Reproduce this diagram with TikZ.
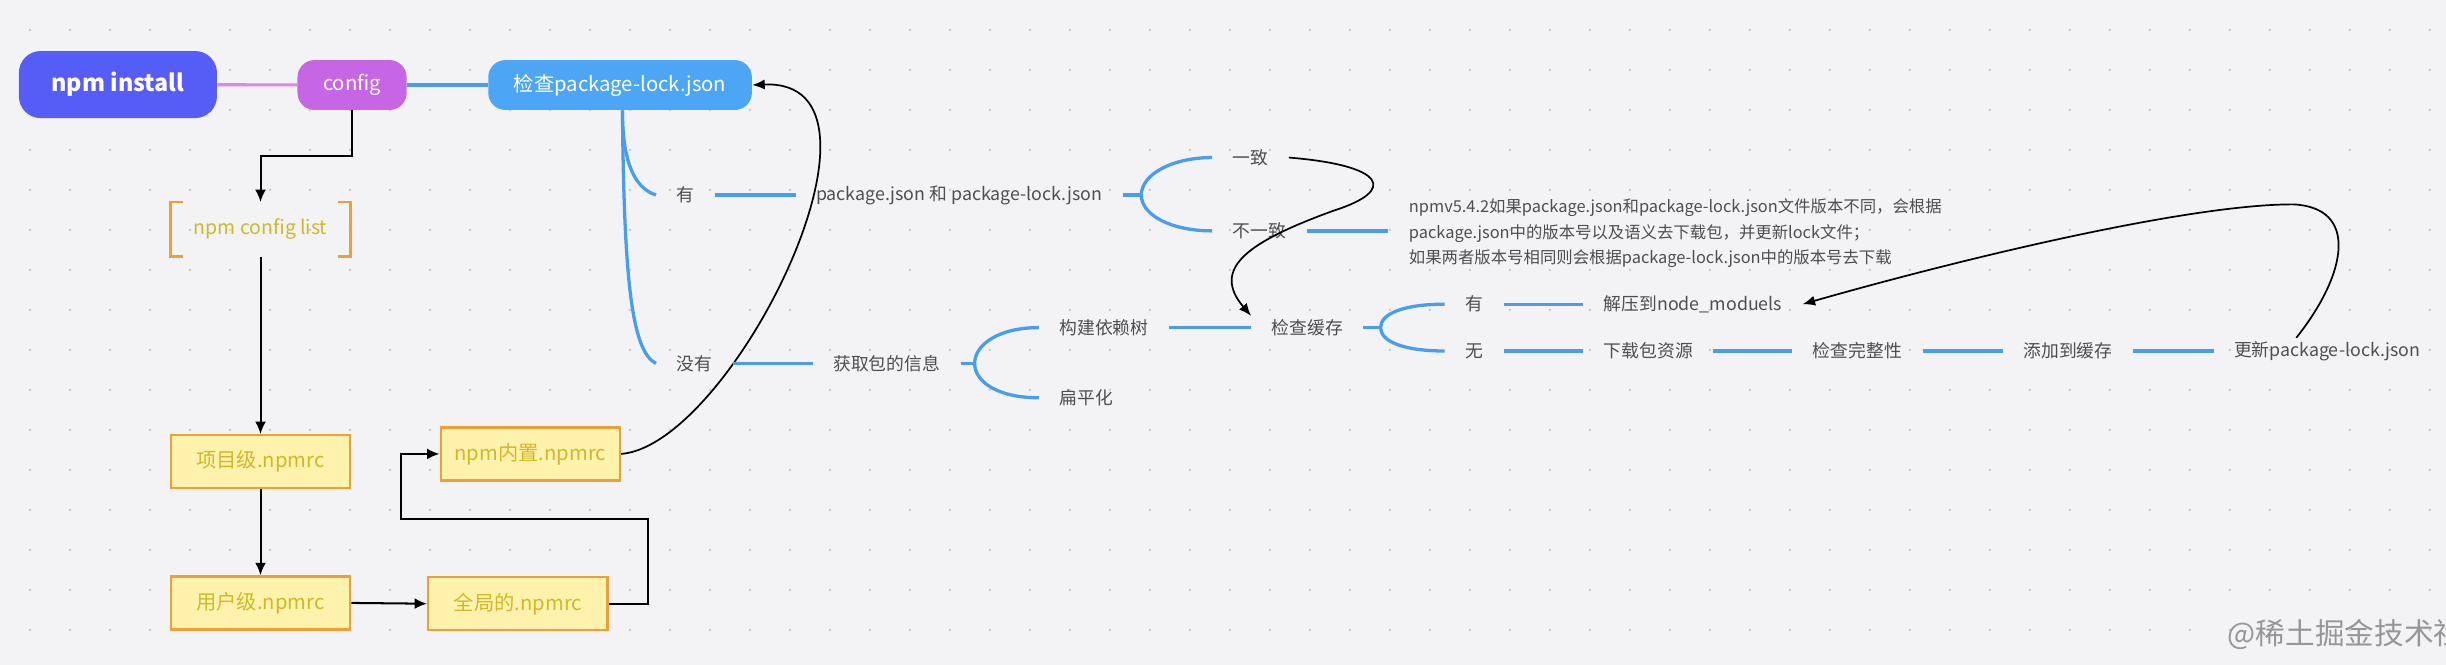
\documentclass[tikz,border=0pt]{standalone}
\usepackage{fontspec}
\setmainfont{Noto Sans CJK SC}
\usetikzlibrary{arrows.meta}

\definecolor{bggray}{RGB}{243,243,245}
\definecolor{dotgray}{RGB}{200,200,206}
\definecolor{installblue}{RGB}{86,92,246}
\definecolor{configpurple}{RGB}{198,102,228}
\definecolor{pinkline}{RGB}{216,136,232}
\definecolor{checkblue}{RGB}{76,166,245}
\definecolor{branchblue}{RGB}{74,157,236}
\definecolor{boxyellow}{RGB}{255,242,172}
\definecolor{boxorange}{RGB}{236,160,56}
\definecolor{boxtext}{RGB}{208,184,40}
\definecolor{labelgray}{RGB}{78,78,80}
\definecolor{markgray}{RGB}{150,150,152}

\begin{document}
\begin{tikzpicture}[x=1pt, y=-1pt,
    pill/.style={rounded corners=11pt, text=white, inner sep=0pt, font=\fontsize{13}{15}\selectfont},
    rcbox/.style={draw=boxorange, fill=boxyellow, line width=1.5pt, text=boxtext, minimum width=115pt, minimum height=34pt, inner sep=0pt, font=\fontsize{13}{15}\selectfont},
    leaf/.style={anchor=west, inner xsep=13pt, inner ysep=2pt, text=labelgray, font=\fontsize{11.4}{13}\selectfont},
    mapline/.style={draw=branchblue, line width=2.1pt},
    flow/.style={-{Latex[length=8pt,width=7pt]}, line width=1.3pt},
    curvy/.style={-{Latex[length=8pt,width=6.5pt]}, line width=1.1pt}]

    % canvas and dot grid
    \fill[bggray] (0,0) rectangle (1568,426);
    \useasboundingbox (0,0) rectangle (1568,426);
    \foreach \i in {0,...,60}
      \foreach \j in {0,...,15}
        \fill[dotgray] (19.2+25.64*\i, 19.2+25.64*\j) circle (0.9);

    % top row
    \node[pill, fill=installblue, minimum width=127pt, minimum height=43pt, rounded corners=14pt, font=\fontsize{15}{17}\selectfont\bfseries] (install) at (75.6,54.2) {npm install};
    \node[pill, fill=configpurple, minimum width=70pt, minimum height=32pt] (config) at (225.7,54.5) {config};
    \node[pill, fill=checkblue, minimum width=169pt, minimum height=32pt] (check) at (397.5,54.5) {检查package-lock.json};
    \draw[pinkline, line width=2pt] (install) -- (config);
    \draw[mapline] (config) -- (check);

    % config lookup order
    \node[text=boxtext, minimum width=115pt, minimum height=34.5pt, font=\fontsize{12.5}{14}\selectfont] (cfglist) at (167,147) {npm config list};
    \draw[boxorange, line width=1.5pt] ([xshift=8pt]cfglist.north west) -- (cfglist.north west) -- (cfglist.south west) -- ([xshift=8pt]cfglist.south west);
    \draw[boxorange, line width=1.5pt] ([xshift=-8pt]cfglist.north east) -- (cfglist.north east) -- (cfglist.south east) -- ([xshift=-8pt]cfglist.south east);
    \draw[flow] (config.south) -- ++(0,29.4) -| (cfglist.north);

    \node[rcbox] (proj) at (167,296) {项目级.npmrc};
    \node[rcbox] (user) at (167,386.5) {用户级.npmrc};
    \node[rcbox] (global) at (332,387) {全局的.npmrc};
    \node[rcbox] (builtin) at (340,291) {npm内置.npmrc};
    \coordinate (loopbend) at (257,333);

    \draw[flow] (cfglist.south) -- (proj.north);
    \draw[flow] (proj.south) -- (user.north);
    \draw[flow] (user.east) -- (global.west);
    \draw[flow] (global.east) -- ++(25,0) |- (loopbend) |- (builtin.west);
    \draw[curvy] (builtin.east) .. controls (470,285) and (585,50) .. (check.east);

    % lock file branch
    \node[leaf] (has) at (420.5,125) {有};
    \node[leaf] (hasnot) at (420.5,233) {没有};
    \draw[mapline] ([xshift=1.5pt]check.south) .. controls (399,100) and (405,120) .. (has.west);
    \draw[mapline] ([xshift=1.5pt]check.south) .. controls (400,180) and (405,225) .. (hasnot.west);

    \node[leaf] (pkgpair) at (510,125) {package.json 和 package-lock.json};
    \draw[mapline] (has) -- (pkgpair);
    \node[leaf] (same) at (777,101) {一致};
    \node[leaf] (differ) at (777,148) {不一致};
    \draw[mapline] (pkgpair.east) -- ++(12,0) coordinate (fork1);
    \draw[mapline] (same.west) .. controls +(-26,0) and +(0,-13) .. (fork1) .. controls +(0,13) and +(-26,0) .. (differ.west);

    \node[leaf, align=left, font=\fontsize{10.5}{16.4}\selectfont] (note) at (890,149.5) {npmv5.4.2如果package.json和package-lock.json文件版本不同，会根据\\package.json中的版本号以及语义去下载包，并更新lock文件；\\如果两者版本号相同则会根据package-lock.json中的版本号去下载};
    \draw[mapline] (differ.east) -- (differ.east -| note.west);

    \node[leaf] (fetch) at (521,233) {获取包的信息};
    \draw[mapline] (hasnot) -- (fetch);
    \node[leaf] (buildtree) at (666,210) {构建依赖树};
    \node[leaf] (flatten) at (666,255) {扁平化};
    \draw[mapline] (fetch.east) -- ++(9,0) coordinate (fork2);
    \draw[mapline] (buildtree.west) .. controls +(-26,0) and +(0,-12) .. (fork2) .. controls +(0,12) and +(-26,0) .. (flatten.west);

    % cache branch
    \node[leaf] (cache) at (802,210) {检查缓存};
    \draw[mapline] (buildtree) -- (cache);
    \draw[curvy] (same.east) .. controls (888,106) and (896,122) .. (855,135) .. controls (800,155) and (776,172) .. (cache.north west);

    \node[leaf] (hit) at (926,195) {有};
    \node[leaf] (miss) at (926,225) {无};
    \draw[mapline] (cache.east) -- ++(11,0) coordinate (fork3);
    \draw[mapline] (hit.west) .. controls +(-26,0) and +(0,-9) .. (fork3) .. controls +(0,9) and +(-26,0) .. (miss.west);

    \node[leaf] (unzip) at (1015,195) {解压到node\_moduels};
    \node[leaf] (download) at (1015,225) {下载包资源};
    \node[leaf] (verify) at (1149,225) {检查完整性};
    \node[leaf] (addcache) at (1284,225) {添加到缓存};
    \node[leaf] (updlock) at (1419,225) {更新package-lock.json};
    \draw[mapline] (hit) -- (unzip);
    \foreach \a/\b in {miss/download, download/verify, verify/addcache, addcache/updlock}
      \draw[mapline] (\a) -- (\b);
    \draw[curvy] ([xshift=53pt]updlock.north west) .. controls (1505,175) and (1512,133) .. (1470,131) .. controls (1400,131) and (1250,168) .. (unzip.east);

    % watermark
    \node[anchor=west, text=markgray, font=\fontsize{19}{19}\selectfont, inner sep=0pt] (mark) at (1428,407) {@稀土掘金技术社区};
\end{tikzpicture}
\end{document}
